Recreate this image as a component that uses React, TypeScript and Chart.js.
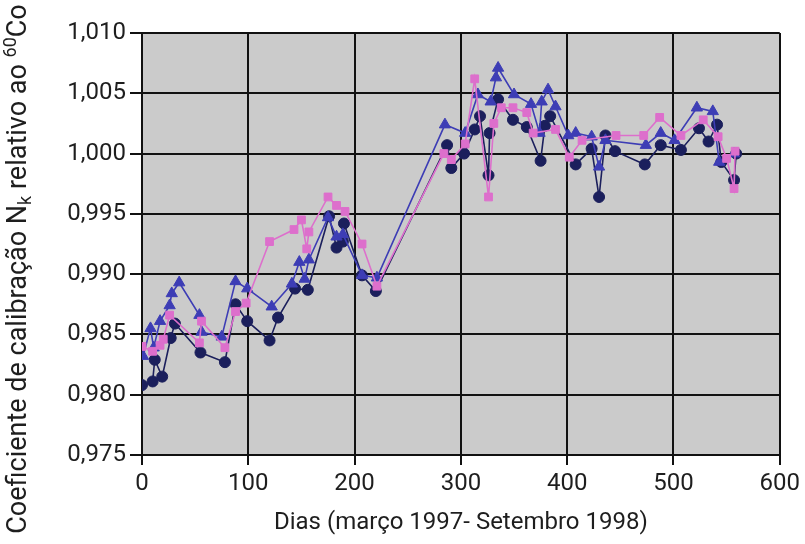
import React, { useEffect, useRef } from "react";
import { Chart, registerables } from "chart.js";

Chart.register(...registerables);

const circleDays = [0, 10, 12, 19, 27, 31, 55, 78, 88, 99, 120, 128, 144, 156, 176, 183, 189, 190, 207, 220, 287, 291, 303, 313, 318, 326, 327, 335, 349, 362, 375, 379, 384, 408, 423, 430, 436, 445, 473, 488, 507, 524, 533, 541, 545, 557, 559];
const circleValues = [0.9808, 0.9811, 0.9829, 0.9815, 0.9847, 0.9859, 0.9835, 0.9827, 0.9875, 0.9861, 0.9845, 0.9864, 0.9888, 0.9887, 0.9948, 0.9922, 0.9927, 0.9942, 0.9899, 0.9886, 1.0007, 0.9988, 1.0000, 1.0020, 1.0031, 0.9982, 1.0017, 1.0045, 1.0028, 1.0022, 0.9994, 1.0023, 1.0031, 0.9991, 1.0004, 0.9964, 1.0015, 1.0002, 0.9991, 1.0007, 1.0003, 1.0021, 1.0010, 1.0024, 0.9993, 0.9978, 1.0000];

const triangleDays = [1, 8, 11, 17, 26, 28, 35, 54, 56, 75, 88, 99, 122, 141, 148, 153, 157, 175, 183, 189, 207, 221, 285, 304, 316, 328, 333, 335, 350, 366, 374, 376, 382, 389, 401, 408, 423, 430, 436, 474, 488, 501, 522, 537, 543, 557];
const triangleValues = [0.9832, 0.9855, 0.9839, 0.9861, 0.9874, 0.9884, 0.9893, 0.9866, 0.9852, 0.9848, 0.9894, 0.9888, 0.9873, 0.9892, 0.9910, 0.9896, 0.9912, 0.9947, 0.9931, 0.9933, 0.9899, 0.9897, 1.0024, 1.0017, 1.0049, 1.0043, 1.0063, 1.0071, 1.0049, 1.0041, 1.0017, 1.0043, 1.0053, 1.0039, 1.0015, 1.0017, 1.0014, 0.9989, 1.0011, 1.0007, 1.0017, 1.0011, 1.0038, 1.0035, 0.9993, 1.0000];

const squareDays = [0, 10, 17, 20, 26, 54, 56, 78, 88, 98, 120, 143, 150, 155, 157, 175, 183, 191, 207, 221, 284, 291, 304, 313, 326, 331, 338, 349, 362, 368, 389, 402, 414, 446, 472, 487, 507, 528, 542, 550, 557, 558];
const squareValues = [0.9840, 0.9836, 0.9841, 0.9846, 0.9866, 0.9843, 0.9861, 0.9839, 0.9869, 0.9876, 0.9927, 0.9937, 0.9945, 0.9921, 0.9935, 0.9964, 0.9957, 0.9952, 0.9925, 0.9890, 1.0000, 0.9995, 1.0008, 1.0062, 0.9964, 1.0025, 1.0038, 1.0038, 1.0034, 1.0017, 1.0020, 0.9997, 1.0011, 1.0015, 1.0015, 1.0030, 1.0015, 1.0028, 1.0014, 0.9996, 0.9971, 1.0002];

const xTickValues = [0, 100, 200, 300, 400, 500, 600];
const yTickValues = [0.975, 0.98, 0.985, 0.99, 0.995, 1.0, 1.005, 1.01];

const xTitle = "Dias (março 1997- Setembro 1998)";
const yTitleParts = [
  { text: "Coeficiente de calibração N", kind: "n" },
  { text: "k", kind: "sub" },
  { text: " relativo ao ", kind: "n" },
  { text: "60", kind: "sup" },
  { text: "Co", kind: "n" },
];

const FONT = "Roboto, 'Noto Sans', sans-serif";
const TEXT = "#1e1e1e";

const toPts = (xs: number[], ys: number[]) => xs.map((x, i) => ({ x, y: ys[i] }));

const bgPlugin = {
  id: "plotBg",
  beforeDraw(chart: any) {
    const { ctx, chartArea } = chart;
    ctx.save();
    ctx.fillStyle = "#cbcbcb";
    ctx.fillRect(chartArea.left, chartArea.top, chartArea.right - chartArea.left, chartArea.bottom - chartArea.top);
    ctx.restore();
  },
};

const yTitlePlugin = {
  id: "yTitleRich",
  afterDraw(chart: any) {
    const ctx = chart.ctx;
    const size = 27;
    const small = 18;
    ctx.save();
    ctx.translate(19, 269);
    ctx.rotate(-Math.PI / 2);
    ctx.fillStyle = TEXT;
    ctx.textBaseline = "middle";
    const widths = yTitleParts.map((p) => {
      ctx.font = `${p.kind === "n" ? size : small}px ${FONT}`;
      return ctx.measureText(p.text).width;
    });
    const total = widths.reduce((a, b) => a + b, 0);
    let x = -total / 2;
    yTitleParts.forEach((p, i) => {
      ctx.font = `${p.kind === "n" ? size : small}px ${FONT}`;
      const dy = p.kind === "sub" ? 7 : p.kind === "sup" ? -8 : 0;
      ctx.fillText(p.text, x, dy);
      x += widths[i];
    });
    ctx.restore();
  },
};

export default function App() {
  const ref = useRef<HTMLCanvasElement | null>(null);
  useEffect(() => {
    document.body.style.margin = "0";
    if (!ref.current) return;
    const mk = (label: string, xs: number[], ys: number[], color: string, style: string, r: number) => ({
      label,
      data: toPts(xs, ys),
      borderColor: color,
      backgroundColor: color,
      pointStyle: style,
      pointRadius: r,
      pointBorderWidth: 1,
      borderWidth: 1.6,
      showLine: true,
      fill: false,
      tension: 0,
    });
    const chart = new Chart(ref.current, {
      type: "scatter",
      data: {
        datasets: [
          mk("quadrados", squareDays, squareValues, "#dd6fcc", "rect", 5.5),
          mk("triângulos", triangleDays, triangleValues, "#3d3db5", "triangle", 6.5),
          mk("círculos", circleDays, circleValues, "#1b1f5c", "circle", 5.5),
        ],
      },
      options: {
        animation: false,
        responsive: false,
        maintainAspectRatio: false,
        layout: { padding: { top: 33, right: 22, left: 0, bottom: 0 } },
        plugins: { legend: { display: false }, tooltip: { enabled: false } },
        scales: {
          x: {
            type: "linear",
            min: 0,
            max: 600,
            afterBuildTicks: (s: any) => { s.ticks = xTickValues.map((v) => ({ value: v })); },
            afterFit: (s: any) => { s.height = 89; },
            grid: { color: "#111", lineWidth: 2, tickLength: 10, drawTicks: true },
            border: { color: "#111", width: 2 },
            ticks: { color: TEXT, font: { family: FONT, size: 24 }, padding: 5, maxRotation: 0 },
            title: { display: true, text: xTitle, color: TEXT, font: { family: FONT, size: 24 }, padding: { top: 0, bottom: 7 } },
          },
          y: {
            type: "linear",
            min: 0.975,
            max: 1.01,
            afterBuildTicks: (s: any) => { s.ticks = yTickValues.map((v) => ({ value: v })); },
            afterFit: (s: any) => { s.width = 142; },
            grid: { color: "#111", lineWidth: 2, tickLength: 12, drawTicks: true },
            border: { color: "#111", width: 2 },
            ticks: {
              color: TEXT,
              font: { family: FONT, size: 24 },
              padding: 4,
              callback: (v: any) => Number(v).toFixed(3).replace(".", ","),
            },
          },
        },
      } as any,
      plugins: [bgPlugin, yTitlePlugin],
    });
    return () => chart.destroy();
  }, []);
  return (
    <div style={{ width: 805, height: 544, background: "#fff" }}>
      <canvas ref={ref} width={805} height={544} style={{ display: "block" }} />
    </div>
  );
}
